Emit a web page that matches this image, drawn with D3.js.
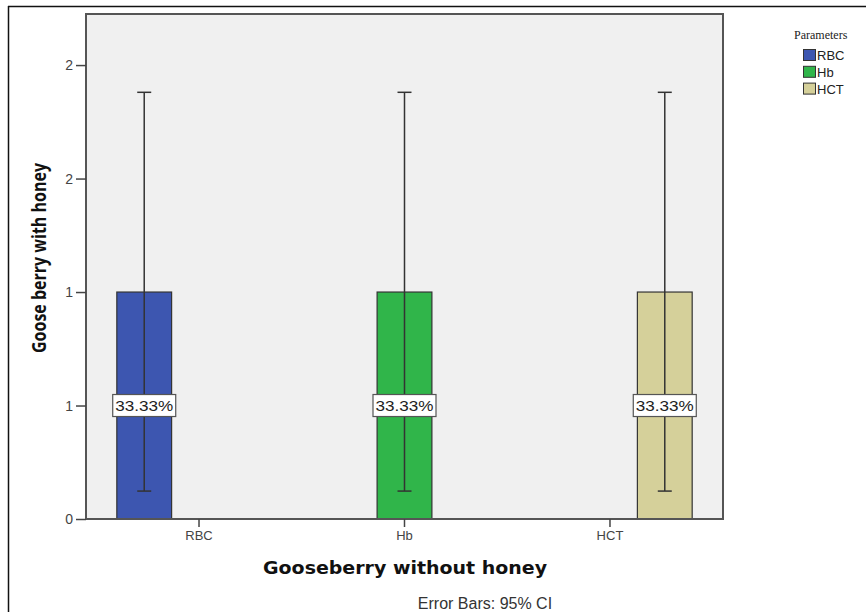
<!DOCTYPE html>
<html><head><meta charset="utf-8">
<script src="https://cdn.jsdelivr.net/npm/d3@7"></script>
<style>body{margin:0;background:#fff}svg{display:block}</style>
</head><body>
<svg id="c" width="866" height="612"></svg>
<script>
const categories = ["RBC", "Hb", "HCT"];
const series = ["RBC", "Hb", "HCT"];
const seriesColors = ["#3d56b0", "#30b54a", "#d5d09a"];
// one bar per category (diagonal), value, 95% CI low/high
const barValues = [1, 1, 1];
const ciLow = [0.123, 0.123, 0.123];
const ciHigh = [1.88, 1.88, 1.88];
const barLabels = ["33.33%", "33.33%", "33.33%"];
const yTickValues = [0, 0.5, 1, 1.5, 2];
const yTickLabels = ["0", "1", "1", "2", "2"];

const svg = d3.select("#c");
const L = 86, R = 723, T = 14, B = 519;

// outer frame
svg.append("line").attr("x1", 8).attr("x2", 866).attr("y1", 6.5).attr("y2", 6.5).attr("stroke", "#111").attr("stroke-width", 1.5);
svg.append("line").attr("x1", 8.5).attr("x2", 8.5).attr("y1", 6).attr("y2", 612).attr("stroke", "#111").attr("stroke-width", 1.5);

const y = d3.scaleLinear().domain([0, 2.225]).range([B, T]);
const x = d3.scaleBand().domain(categories).range([L, R]).paddingInner(0.2).paddingOuter(0.15);
const xs = d3.scaleBand().domain(series).range([0, x.bandwidth()]).padding(0);
const color = d3.scaleOrdinal().domain(series).range(seriesColors);

svg.append("rect").attr("x", L).attr("y", T).attr("width", R - L).attr("height", B - T)
  .attr("fill", "#f0f0f0").attr("stroke", "none");

const data = categories.map((c, i) => ({cat: c, ser: series[i], v: barValues[i], lo: ciLow[i], hi: ciHigh[i], label: barLabels[i]}));

const g = svg.append("g");
data.forEach(d => {
  const bx = x(d.cat) + xs(d.ser);
  const bw = xs.bandwidth();
  g.append("rect").attr("x", bx).attr("y", y(d.v)).attr("width", bw).attr("height", y(0) - y(d.v))
    .attr("fill", color(d.ser)).attr("stroke", "#333").attr("stroke-width", 1.2);
});
data.forEach(d => {
  const cx = x(d.cat) + xs(d.ser) + xs.bandwidth() / 2;
  g.append("line").attr("x1", cx).attr("x2", cx).attr("y1", y(d.hi)).attr("y2", y(d.lo)).attr("stroke", "#333").attr("stroke-width", 1.5);
  [d.hi, d.lo].forEach(v => g.append("line").attr("x1", cx - 7).attr("x2", cx + 7).attr("y1", y(v)).attr("y2", y(v)).attr("stroke", "#333").attr("stroke-width", 1.5));
});
data.forEach(d => {
  const cx = x(d.cat) + xs(d.ser) + xs.bandwidth() / 2;
  const cy = y(d.v / 2);
  g.append("rect").attr("x", cx - 31.5).attr("y", cy - 11).attr("width", 63).attr("height", 22)
    .attr("fill", "#fff").attr("stroke", "#555").attr("stroke-width", 1.2);
  g.append("text").attr("x", cx).attr("y", cy + 5.5).attr("text-anchor", "middle")
    .attr("font-family", "Liberation Sans, Arial, sans-serif").attr("font-size", 15).attr("fill", "#222")
    .attr("textLength", 58).attr("lengthAdjust", "spacingAndGlyphs").text(d.label);
});

// frame of plot
svg.append("rect").attr("x", L).attr("y", T).attr("width", R - L).attr("height", B - T)
  .attr("fill", "none").attr("stroke", "#555").attr("stroke-width", 2);

// y axis
const yAxis = d3.axisLeft(y).tickValues(yTickValues).tickSize(10).tickPadding(3)
  .tickFormat((d, i) => yTickLabels[i]);
const ya = svg.append("g").attr("transform", `translate(${L},0)`).call(yAxis);
ya.select(".domain").remove();
ya.selectAll("line").attr("stroke", "#444").attr("stroke-width", 1.5);
ya.selectAll("text").attr("font-family", "Liberation Sans, Arial, sans-serif").attr("font-size", 14).attr("fill", "#444");

// x axis
const xAxis = d3.axisBottom(x).tickSize(8).tickPadding(4);
const xa = svg.append("g").attr("transform", `translate(0,${B})`).call(xAxis);
xa.select(".domain").remove();
xa.selectAll("line").attr("stroke", "#444").attr("stroke-width", 1.5);
xa.selectAll("text").attr("font-family", "Liberation Sans, Arial, sans-serif").attr("font-size", 13).attr("fill", "#444");

// titles
svg.append("text").attr("x", 405).attr("y", 574).attr("text-anchor", "middle")
  .attr("font-family", "DejaVu Sans, Verdana, sans-serif").attr("font-weight", "bold").attr("font-size", 18)
  .attr("fill", "#111").attr("textLength", 284).attr("lengthAdjust", "spacingAndGlyphs").text("Gooseberry without honey");
svg.append("text").attr("transform", "translate(46,258) rotate(-90)").attr("text-anchor", "middle")
  .attr("font-family", "Open Sans, sans-serif").attr("font-weight", "bold").attr("font-size", 19)
  .attr("fill", "#111").attr("textLength", 190).attr("lengthAdjust", "spacingAndGlyphs").text("Goose berry with honey");
svg.append("text").attr("x", 485).attr("y", 609).attr("text-anchor", "middle")
  .attr("font-family", "Liberation Sans, Arial, sans-serif").attr("font-size", 16).attr("fill", "#333")
  .text("Error Bars: 95% CI");

// legend
const lg = svg.append("g");
lg.append("text").attr("x", 794).attr("y", 39).attr("font-family", "Liberation Serif, Times New Roman, serif")
  .attr("font-size", 12).attr("fill", "#222").text("Parameters");
series.forEach((s, i) => {
  lg.append("rect").attr("x", 803.5).attr("y", 49.5 + i * 16.8).attr("width", 12).attr("height", 11)
    .attr("fill", color(s)).attr("stroke", "#333").attr("stroke-width", 1);
  lg.append("text").attr("x", 817).attr("y", 60 + i * 16.8).attr("font-family", "Liberation Sans, Arial, sans-serif")
    .attr("font-size", 13).attr("fill", "#222").text(s);
});
</script>
</body></html>
